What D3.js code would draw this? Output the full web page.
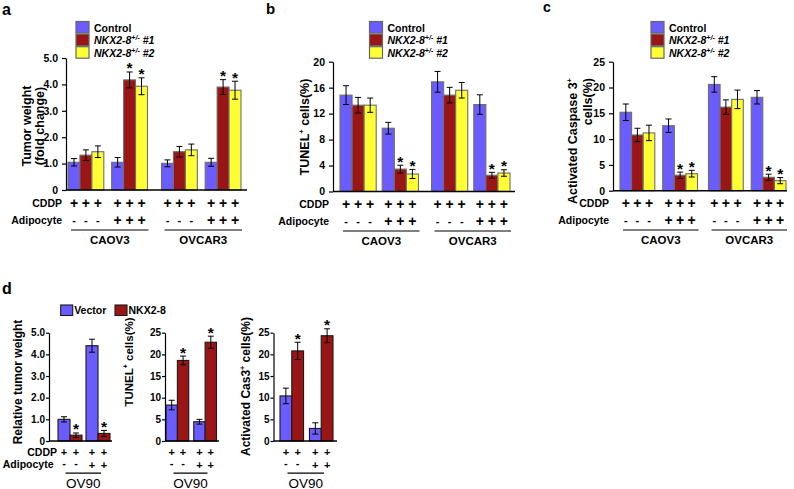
<!DOCTYPE html>
<html><head><meta charset="utf-8">
<script src="https://cdn.jsdelivr.net/npm/d3@7/dist/d3.min.js"></script>
<style>body{margin:0;background:#fff} text{font-family:Arial,"Liberation Sans",sans-serif;fill:#000}</style>
</head><body><svg id="c" width="794" height="489"></svg>
<script>
// ---------------- DATA ----------------
const series3 = ["Control", "NKX2-8 #1", "NKX2-8 #2"];
const seriesD = ["Vector", "NKX2-8"];
const cellLines = ["CAOV3", "OVCAR3"];
const adipocyte = ["-", "+"];
const cellLineD = "OV90";
// order: CAOV3(-: C,#1,#2 | +: C,#1,#2), OVCAR3(- ... | + ...)
const aValues = [1.05, 1.32, 1.45, 1.05, 4.17, 3.93, 1.01, 1.45, 1.52, 1.05, 3.90, 3.78];
const aErrors = [0.14, 0.20, 0.22, 0.18, 0.30, 0.32, 0.13, 0.20, 0.22, 0.15, 0.28, 0.34];
const aStars  = [0, 0, 0, 0, 1, 1, 0, 0, 0, 0, 1, 1];
const bValues = [14.85, 13.3, 13.3, 9.75, 3.45, 2.7, 16.9, 14.85, 15.6, 13.4, 2.5, 2.85];
const bErrors = [1.45, 1.2, 1.1, 0.9, 0.6, 0.7, 1.6, 1.2, 1.2, 1.5, 0.45, 0.5];
const bStars  = [0, 0, 0, 0, 1, 1, 0, 0, 0, 0, 1, 1];
const cValues = [15.2, 10.8, 11.2, 12.6, 3.0, 3.3, 20.6, 16.2, 17.7, 18.1, 2.6, 1.95];
const cErrors = [1.6, 1.3, 1.5, 1.3, 0.6, 0.65, 1.5, 1.4, 1.8, 1.3, 0.6, 0.6];
const cStars  = [0, 0, 0, 0, 1, 1, 0, 0, 0, 0, 1, 1];
// panel d order: (-: Vector, NKX2-8), (+: Vector, NKX2-8)
const d1Values = [1.0, 0.27, 4.4, 0.35];
const d1Errors = [0.12, 0.1, 0.3, 0.14];
const d2Values = [8.3, 18.6, 4.45, 22.8];
const d2Errors = [1.1, 1.0, 0.55, 1.4];
const d3Values = [10.4, 20.8, 2.9, 24.3];
const d3Errors = [1.8, 2.0, 1.3, 1.6];
const dStars = [0, 1, 0, 1];
const ticksA = [0, 1, 2, 3, 4, 5];
const ticksB = [0, 4, 8, 12, 16, 20];
const ticks25 = [0, 5, 10, 15, 20, 25];

// ---------------- STYLE ----------------
const colors3 = {"Control": "#6a5cff", "NKX2-8 #1": "#9a1515", "NKX2-8 #2": "#ffff33"};
const colorsD = {"Vector": "#6a5cff", "NKX2-8": "#9a1515"};
const svg = d3.select("#c");
const BOLD = "bold";

function fmt1(v) { return v === 0 ? "0" : d3.format(".1f")(v); }
function fmt0(v) { return String(v); }

function drawAxis(g, y, cfg) {
  const ax = g.append("g").attr("transform", `translate(${cfg.axisX},0)`)
    .call(d3.axisLeft(y).tickValues(cfg.ticks).tickFormat(cfg.fmt).tickSize(cfg.tickSize).tickSizeOuter(0).tickPadding(cfg.tickPad));
  ax.select(".domain").attr("stroke", "#000").attr("stroke-width", 1.2);
  ax.selectAll(".tick line").attr("stroke", "#000").attr("stroke-width", 1.2);
  ax.selectAll(".tick text").attr("font-size", cfg.tickFont).attr("font-weight", BOLD).attr("fill", "#000")
    .attr("font-family", "Arial, 'Liberation Sans', sans-serif");
  g.append("line").attr("x1", cfg.axisX).attr("x2", cfg.xEnd)
    .attr("y1", y(0)).attr("y2", y(0)).attr("stroke", "#000").attr("stroke-width", 1.4);
}

function drawBar(g, y, x, w, v, e, star, fill, stroke) {
  g.append("rect").attr("x", x).attr("y", y(v)).attr("width", w).attr("height", y(0) - y(v))
    .attr("fill", fill).attr("stroke", stroke).attr("stroke-width", 1.1);
  const cx = x + w / 2;
  g.append("line").attr("x1", cx).attr("x2", cx).attr("y1", y(v - e)).attr("y2", y(v + e))
    .attr("stroke", "#000").attr("stroke-width", 1);
  [v - e, v + e].forEach(t => g.append("line").attr("x1", cx - 3).attr("x2", cx + 3)
    .attr("y1", y(t)).attr("y2", y(t)).attr("stroke", "#000").attr("stroke-width", 1));
  if (star) g.append("text").attr("x", cx).attr("y", y(v + e) + 1.5).attr("text-anchor", "middle")
    .attr("font-size", 15.5).attr("font-weight", BOLD).text("*");
}

function sign(g, x, yy, s, size) {
  g.append("text").attr("x", x).attr("y", yy).attr("text-anchor", "middle")
    .attr("font-size", s === "+" ? size : 11).attr("font-weight", BOLD).text(s);
}

function legend3(g, bx, y0) {
  series3.forEach((s, i) => {
    const yy = y0 + i * 12.6;
    g.append("rect").attr("x", bx).attr("y", yy).attr("width", 13).attr("height", 11.5)
      .attr("fill", colors3[s]).attr("stroke", "#666").attr("stroke-width", 1.2);
    const t = g.append("text").attr("x", bx + 18).attr("y", yy + 10).attr("font-size", 10.5).attr("font-weight", BOLD);
    if (i === 0) t.text(s);
    else {
      t.append("tspan").attr("font-style", "italic").text("NKX2-8");
      t.append("tspan").attr("font-style", "italic").attr("font-size", 7).attr("dy", -4).text("+/-");
      t.append("tspan").attr("font-style", "italic").attr("dy", 4).text(" " + s.split(" ")[1]);
    }
  });
}

function panel3(cfg, values, errors, stars) {
  const g = svg.append("g");
  const y = d3.scaleLinear().domain([0, cfg.ticks[cfg.ticks.length - 1]]).range([cfg.y0, cfg.y1]);
  const outer = d3.scaleBand().domain(cellLines).range([cfg.bx0, cfg.bx1]).paddingInner(cfg.pOuter);
  const mid = d3.scaleBand().domain(adipocyte).range([0, outer.bandwidth()]).paddingInner(cfg.pMid);
  const inner = d3.scaleBand().domain(series3).range([0, mid.bandwidth()]);
  cellLines.forEach((cl, li) => {
    adipocyte.forEach((ad, ai) => {
      series3.forEach((s, si) => {
        const i = li * 6 + ai * 3 + si;
        const x = outer(cl) + mid(ad) + inner(s);
        drawBar(g, y, x, inner.bandwidth(), values[i], errors[i], stars[i], colors3[s], "#6e6e6e");
        const cx = x + inner.bandwidth() / 2;
        sign(g, cx, cfg.rowY + 5, "+", 14);
        sign(g, cx, ad === "+" ? cfg.rowY + 22 : cfg.rowY + 20.5, ad, 14);
      });
    });
    const lx0 = outer(cl) + 3, lx1 = outer(cl) + outer.bandwidth() + 1;
    g.append("line").attr("x1", lx0).attr("x2", lx1).attr("y1", cfg.rowY + 27).attr("y2", cfg.rowY + 27)
      .attr("stroke", "#000").attr("stroke-width", 1.2);
    g.append("text").attr("x", (lx0 + lx1) / 2).attr("y", cfg.rowY + 41).attr("text-anchor", "middle")
      .attr("font-size", 11.5).attr("font-weight", BOLD).text(cl);
  });
  cfg.tickSize = 4; cfg.tickPad = 4; cfg.tickFont = 10.5;
  drawAxis(g, y, cfg);
  g.append("text").attr("x", cfg.axisX - 4).attr("y", cfg.rowY + 4).attr("text-anchor", "end")
    .attr("font-size", 10.5).attr("font-weight", BOLD).text("CDDP");
  g.append("text").attr("x", cfg.axisX - 4).attr("y", cfg.rowY + 21).attr("text-anchor", "end")
    .attr("font-size", 10.5).attr("font-weight", BOLD).text("Adipocyte");
  legend3(g, cfg.legX, 21.5);
  g.append("text").attr("x", cfg.labX).attr("y", cfg.labY).attr("font-size", cfg.labSize).attr("font-weight", BOLD).text(cfg.label);
  return g;
}

function ylab(g, x, y, anchor, size, parts) {
  const t = g.append("text").attr("transform", `translate(${x},${y}) rotate(-90)`)
    .attr("text-anchor", anchor).attr("font-size", size).attr("font-weight", BOLD);
  parts.forEach(p => {
    const ts = t.append("tspan").text(p.t);
    if (p.sup) ts.attr("font-size", size * 0.6).attr("dy", -size * 0.4);
    if (p.after) ts.attr("dy", size * 0.4);
  });
}

// ---------------- PANELS a, b, c ----------------
const ga = panel3({ticks: ticksA, fmt: fmt1, axisX: 66, y0: 190, y1: 58, bx0: 68, bx1: 241, xEnd: 247,
  pOuter: 0.15, pMid: 0.18, rowY: 203, legX: 76, labX: 2, labY: 15, labSize: 16, label: "a"}, aValues, aErrors, aStars);
ylab(ga, 31, 126, "middle", 12.5, [{t: "Tumor weight"}]);
ylab(ga, 43.5, 126, "middle", 12.5, [{t: "(fold change)"}]);

const gb = panel3({ticks: ticksB, fmt: fmt0, axisX: 333, y0: 191.5, y1: 61.7, bx0: 340, bx1: 510, xEnd: 515,
  pOuter: 0.143, pMid: 0.143, rowY: 204, legX: 369.5, labX: 266, labY: 14, labSize: 15, label: "b"}, bValues, bErrors, bStars);
ylab(gb, 309, 127, "middle", 12.5, [{t: "TUNEL"}, {t: "+", sup: true}, {t: " cells(%)", after: true}]);

const gc = panel3({ticks: ticks25, fmt: fmt0, axisX: 613, y0: 190.7, y1: 61.7, bx0: 620, bx1: 786, xEnd: 787,
  pOuter: 0.124, pMid: 0.186, rowY: 203, legX: 651, labX: 543, labY: 12, labSize: 14, label: "c"}, cValues, cErrors, cStars);
ylab(gc, 577, 78, "end", 12.5, [{t: "Activated Caspase 3"}, {t: "+", sup: true}]);
ylab(gc, 592, 78, "end", 12.5, [{t: "cells(%)"}]);

// ---------------- PANEL d ----------------
const dCfgs = [
  {vals: d1Values, errs: d1Errors, ticks: ticksA, fmt: fmt1, axisX: 49, bx0: 58, bx1: 110, xEnd: 112, p: 0.143},
  {vals: d2Values, errs: d2Errors, ticks: ticks25, fmt: fmt0, axisX: 165, bx0: 166, bx1: 216.5, xEnd: 219, p: 0.18},
  {vals: d3Values, errs: d3Errors, ticks: ticks25, fmt: fmt0, axisX: 273.5, bx0: 280, bx1: 333, xEnd: 337, p: 0.2}
];
const gd = svg.append("g");
dCfgs.forEach(cfg => {
  cfg.y0 = 441; cfg.y1 = 332.7; cfg.tickSize = 3; cfg.tickPad = 1; cfg.tickFont = 10;
  const y = d3.scaleLinear().domain([0, cfg.ticks[cfg.ticks.length - 1]]).range([cfg.y0, cfg.y1]);
  const xg = d3.scaleBand().domain(adipocyte).range([cfg.bx0, cfg.bx1]).paddingInner(cfg.p);
  const xi = d3.scaleBand().domain(seriesD).range([0, xg.bandwidth()]);
  adipocyte.forEach((ad, ai) => seriesD.forEach((s, si) => {
    const i = ai * 2 + si;
    const x = xg(ad) + xi(s);
    drawBar(gd, y, x, xi.bandwidth(), cfg.vals[i], cfg.errs[i], dStars[i], colorsD[s], "#1a1a1a");
    const cx = x + xi.bandwidth() / 2;
    sign(gd, cx, 455.5, "+", 11);
    sign(gd, cx, ad === "+" ? 468.5 : 467, ad, 11);
  }));
  drawAxis(gd, y, cfg);
  const lx0 = cfg.bx0 + 7.5, lx1 = cfg.bx1 - 9;
  gd.append("line").attr("x1", lx0).attr("x2", lx1).attr("y1", 473.2).attr("y2", 473.2).attr("stroke", "#000").attr("stroke-width", 1.2);
  gd.append("text").attr("x", (lx0 + lx1) / 2).attr("y", 487.5).attr("text-anchor", "middle")
    .attr("font-size", 13.5).text(cellLineD);
});
gd.append("text").attr("x", 57).attr("y", 456).attr("text-anchor", "end").attr("font-size", 10.5).attr("font-weight", BOLD).text("CDDP");
gd.append("text").attr("x", 53.5).attr("y", 468).attr("text-anchor", "end").attr("font-size", 10.5).attr("font-weight", BOLD).text("Adipocyte");
ylab(gd, 21.5, 382, "middle", 12, [{t: "Relative tumor weight"}]);
ylab(gd, 133, 362, "middle", 11.5, [{t: "TUNEL"}, {t: "+", sup: true}, {t: " cells(%)", after: true}]);
ylab(gd, 250, 386.5, "middle", 12, [{t: "Activated Cas3"}, {t: "+", sup: true}, {t: " cells(%)", after: true}]);
// legend d
seriesD.forEach((s, i) => {
  const bx = i === 0 ? 60.7 : 115;
  gd.append("rect").attr("x", bx).attr("y", 305).attr("width", 12).attr("height", 10.5)
    .attr("fill", colorsD[s]).attr("stroke", "#1a1a1a").attr("stroke-width", 1.1);
  gd.append("text").attr("x", bx + 13.5).attr("y", 314).attr("font-size", 10.5).attr("font-weight", BOLD).text(s);
});
gd.append("text").attr("x", 2).attr("y", 294).attr("font-size", 16).attr("font-weight", BOLD).text("d");
</script></body></html>
